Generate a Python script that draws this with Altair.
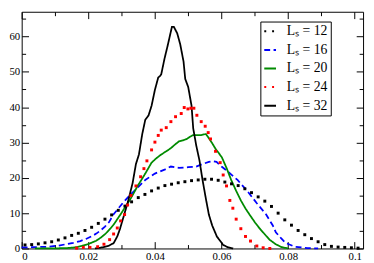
import altair as alt
import pandas as pd

# ---- series definitions ----
series = ["12", "16", "20", "24", "32"]
colors = ["#000000", "#0000ff", "#008b00", "#ff0000", "#000000"]
dashes = [[2, 6], [6, 3.5], [1, 0], [2, 6], [1, 0]]

# L_S = 12 (black dots)
l12_x = [0.001, 0.003, 0.005, 0.007, 0.009, 0.011, 0.013, 0.015, 0.017, 0.019,
         0.021, 0.023, 0.025, 0.027, 0.029, 0.031, 0.033, 0.035, 0.037, 0.039,
         0.041, 0.043, 0.045, 0.047, 0.049, 0.051, 0.053, 0.055, 0.057, 0.059,
         0.061, 0.063, 0.065, 0.067, 0.069, 0.071, 0.073, 0.075, 0.077, 0.079,
         0.081, 0.083, 0.085, 0.087, 0.089, 0.091, 0.093, 0.095, 0.097, 0.099, 0.101]
l12_y = [1.0, 1.1, 1.3, 1.6, 1.9, 2.4, 3.0, 3.7, 4.3, 5.1,
         6.0, 7.1, 8.3, 9.5, 10.8, 12.0, 13.2, 14.4, 15.3, 16.3,
         17.1, 17.8, 18.2, 18.6, 18.9, 19.2, 19.4, 19.6, 19.6, 19.3,
         18.8, 18.3, 17.8, 16.9, 15.8, 14.6, 13.4, 11.9, 10.0, 8.1,
         6.6, 5.1, 3.9, 2.8, 1.9, 1.1, 0.6, 0.4, 0.3, 0.2, 0.1]

# L_S = 16 (blue dashed)
l16_x = [0.0, 0.004, 0.008, 0.011, 0.0133, 0.0155, 0.0176, 0.0193, 0.0209, 0.0224,
         0.0238, 0.025, 0.0262, 0.0276, 0.029, 0.0303, 0.0324, 0.0348, 0.0371, 0.04,
         0.0429, 0.0448, 0.046, 0.0472, 0.05, 0.0524, 0.0543, 0.0562, 0.0575, 0.0585,
         0.06, 0.062, 0.0648, 0.0677, 0.0706, 0.0734, 0.0754, 0.0763, 0.0778, 0.0792,
         0.082, 0.0858, 0.089]
l16_y = [0.3, 0.4, 0.5, 0.8, 1.2, 1.6, 2.1, 2.7, 3.4, 4.2,
         5.2, 6.2, 7.4, 9.7, 11.3, 12.8, 15.0, 17.2, 19.4, 21.2,
         22.3, 23.2, 23.0, 22.8, 23.0, 23.2, 23.9, 24.5, 24.7, 24.5,
         23.2, 21.7, 19.4, 16.3, 12.8, 9.6, 6.5, 4.6, 3.0, 1.6,
         0.5, 0.1, 0.0]

# L_S = 20 (green solid)
l20_x = [0.004, 0.008, 0.0133, 0.016, 0.018, 0.0195, 0.0209, 0.0224, 0.0238, 0.0252,
         0.0266, 0.0278, 0.029, 0.03, 0.0312, 0.0324, 0.0336, 0.0348, 0.036, 0.0371,
         0.039, 0.0405, 0.0419, 0.0434, 0.0448, 0.046, 0.0472, 0.0484, 0.0496, 0.0505,
         0.0515, 0.0527, 0.0539, 0.0553, 0.0562, 0.0572, 0.0582, 0.0591, 0.0601, 0.0615,
         0.0629, 0.0644, 0.0658, 0.0672, 0.0687, 0.0701, 0.0715, 0.073, 0.0744, 0.0763,
         0.078, 0.080]
l20_y = [0.0, 0.0, 0.1, 0.3, 0.7, 1.1, 1.6, 2.2, 3.1, 4.2,
         5.6, 7.0, 8.7, 10.1, 11.9, 13.6, 15.6, 17.7, 19.5, 21.2,
         24.3, 25.6, 26.6, 27.5, 28.4, 29.4, 30.3, 30.6, 31.0, 31.6,
         32.1, 32.1, 32.1, 32.4, 31.2, 29.8, 28.2, 27.1, 25.8, 22.8,
         19.4, 16.3, 13.6, 11.3, 9.2, 7.3, 5.6, 4.0, 2.5, 1.2,
         0.4, 0.0]

# L_S = 24 (red dots)
l24_x = [0.0165, 0.0185, 0.0205, 0.0228, 0.0247, 0.0264, 0.0276, 0.0287, 0.0297, 0.0309,
         0.0318, 0.0328, 0.0343, 0.0357, 0.0367, 0.0376, 0.039, 0.04, 0.041, 0.0419,
         0.0434, 0.0448, 0.0462, 0.0479, 0.0488, 0.0499, 0.0508, 0.0517, 0.0526, 0.0539,
         0.0551, 0.056, 0.0567, 0.0582, 0.0596, 0.0605, 0.0615, 0.0625, 0.0634, 0.0644,
         0.0658, 0.0672, 0.0687, 0.0706, 0.0725, 0.0745]
l24_y = [0.1, 0.3, 0.3, 0.5, 1.2, 2.5, 4.1, 5.8, 7.8, 9.6,
         12.3, 15.0, 17.7, 20.3, 22.6, 24.8, 27.9, 30.1, 32.0, 33.5,
         34.2, 35.9, 37.3, 38.2, 39.9, 39.5, 39.7, 39.7, 37.7, 35.9,
         34.6, 32.8, 31.0, 27.5, 24.3, 20.8, 17.7, 13.6, 11.4, 8.3,
         5.6, 3.4, 2.1, 0.7, 0.2, 0.0]

# L_S = 32 (black solid)
l32_x = [0.022, 0.0242, 0.0262, 0.0276, 0.0287, 0.0295, 0.0305, 0.0319, 0.0333, 0.0343,
         0.0352, 0.0362, 0.0371, 0.0381, 0.039, 0.04, 0.041, 0.0415, 0.0419, 0.0429,
         0.0438, 0.0451, 0.0457, 0.0467, 0.0476, 0.0486, 0.0491, 0.05, 0.051, 0.0515,
         0.0524, 0.0534, 0.0543, 0.0553, 0.0562, 0.0572, 0.0586, 0.0605, 0.062, 0.0635]
l32_y = [0.0, 0.3, 0.8, 1.5, 3.4, 5.5, 8.7, 13.2, 18.5, 23.9,
         26.6, 32.4, 36.4, 37.7, 40.4, 44.9, 48.4, 48.8, 49.3, 53.8,
         57.3, 62.7, 62.7, 60.9, 57.8, 52.9, 48.0, 45.7, 40.4, 34.0,
         29.2, 24.8, 19.4, 14.1, 9.6, 6.5, 3.4, 1.0, 0.3, 0.0]

x_major = [0, 0.02, 0.04, 0.06, 0.08, 0.1]
x_minor = [0.01, 0.03, 0.05, 0.07, 0.09]
y_major = [0, 10, 20, 30, 40, 50, 60]
y_minor = [5, 15, 25, 35, 45, 55, 65]

W, H = 349, 242
FONT = "Liberation Serif"


def frame(xs, ys, name):
    return pd.DataFrame({"x": xs, "y": ys, "L": name})


line_df = pd.concat([frame(l16_x, l16_y, "16"), frame(l20_x, l20_y, "20"),
                     frame(l32_x, l32_y, "32")], ignore_index=True)
dot_df = pd.concat([frame(l12_x, l12_y, "12"), frame(l24_x, l24_y, "24")],
                   ignore_index=True)

xs = alt.Scale(domain=[0, 0.1025], nice=False, zero=False)
ys = alt.Scale(domain=[0, 67], nice=False, zero=False)

legend = alt.Legend(
    title=None, orient="none", legendX=244, legendY=10,
    strokeColor="black", fillColor="white", padding=3, rowPadding=5,
    symbolType="stroke", symbolSize=144, symbolStrokeWidth=2,
    labelFont=FONT, labelFontSize=14, labelColor="black", labelOffset=10,
    labelExpr="'L\u209b = ' + datum.label",
)
color = alt.Color("L:N", scale=alt.Scale(domain=series, range=colors), legend=legend)
dash = alt.StrokeDash("L:N", scale=alt.Scale(domain=series, range=dashes), legend=legend)

lines = alt.Chart(line_df).mark_line(strokeWidth=1.8).encode(
    x=alt.X("x:Q", scale=xs, axis=alt.Axis(values=x_major, format=".2~f", title=None,
                                           ticks=False, domain=False, grid=False,
                                           labelPadding=2, labelFont=FONT,
                                           labelFontSize=11, labelColor="black")),
    y=alt.Y("y:Q", scale=ys, axis=alt.Axis(values=y_major, title=None, ticks=False,
                                           domain=False, grid=False, labelPadding=2,
                                           labelFont=FONT, labelFontSize=11,
                                           labelColor="black")),
    color=color,
    strokeDash=dash,
    order=alt.Order("L:N"),
)

dots = alt.Chart(dot_df).mark_square(size=9, opacity=1).encode(
    x=alt.X("x:Q", scale=xs, axis=None),
    y=alt.Y("y:Q", scale=ys, axis=None),
    color=color,
)


def ticks(x_orient, y_orient, xvals, yvals, size):
    return alt.Chart(line_df).mark_point(opacity=0).encode(
        x=alt.X("x:Q", scale=xs, axis=alt.Axis(orient=x_orient, offset=-H, values=xvals,
                                               labels=False, domain=False, grid=False,
                                               title=None, tickSize=size,
                                               tickColor="black", tickWidth=1)),
        y=alt.Y("y:Q", scale=ys, axis=alt.Axis(orient=y_orient, offset=-W, values=yvals,
                                               labels=False, domain=False, grid=False,
                                               title=None, tickSize=size,
                                               tickColor="black", tickWidth=1)),
    )


chart = alt.layer(
    lines, dots,
    ticks("top", "right", x_major, y_major, 7),
    ticks("top", "right", x_minor, y_minor, 4),
    ticks("bottom", "left", x_major, y_major, 7),
    ticks("bottom", "left", x_minor, y_minor, 4),
).resolve_axis(
    x="independent", y="independent"
).properties(
    width=W, height=H,
    padding={"left": 14, "top": 1, "right": 3, "bottom": 12},
    autosize=alt.AutoSizeParams(type="none"),
).configure_view(
    stroke="black", strokeWidth=1
).configure_axis(
    labelFont=FONT, labelFontSize=11, labelColor="black"
)

chart.save("out.html", embed_options={"renderer": "svg", "actions": False})
